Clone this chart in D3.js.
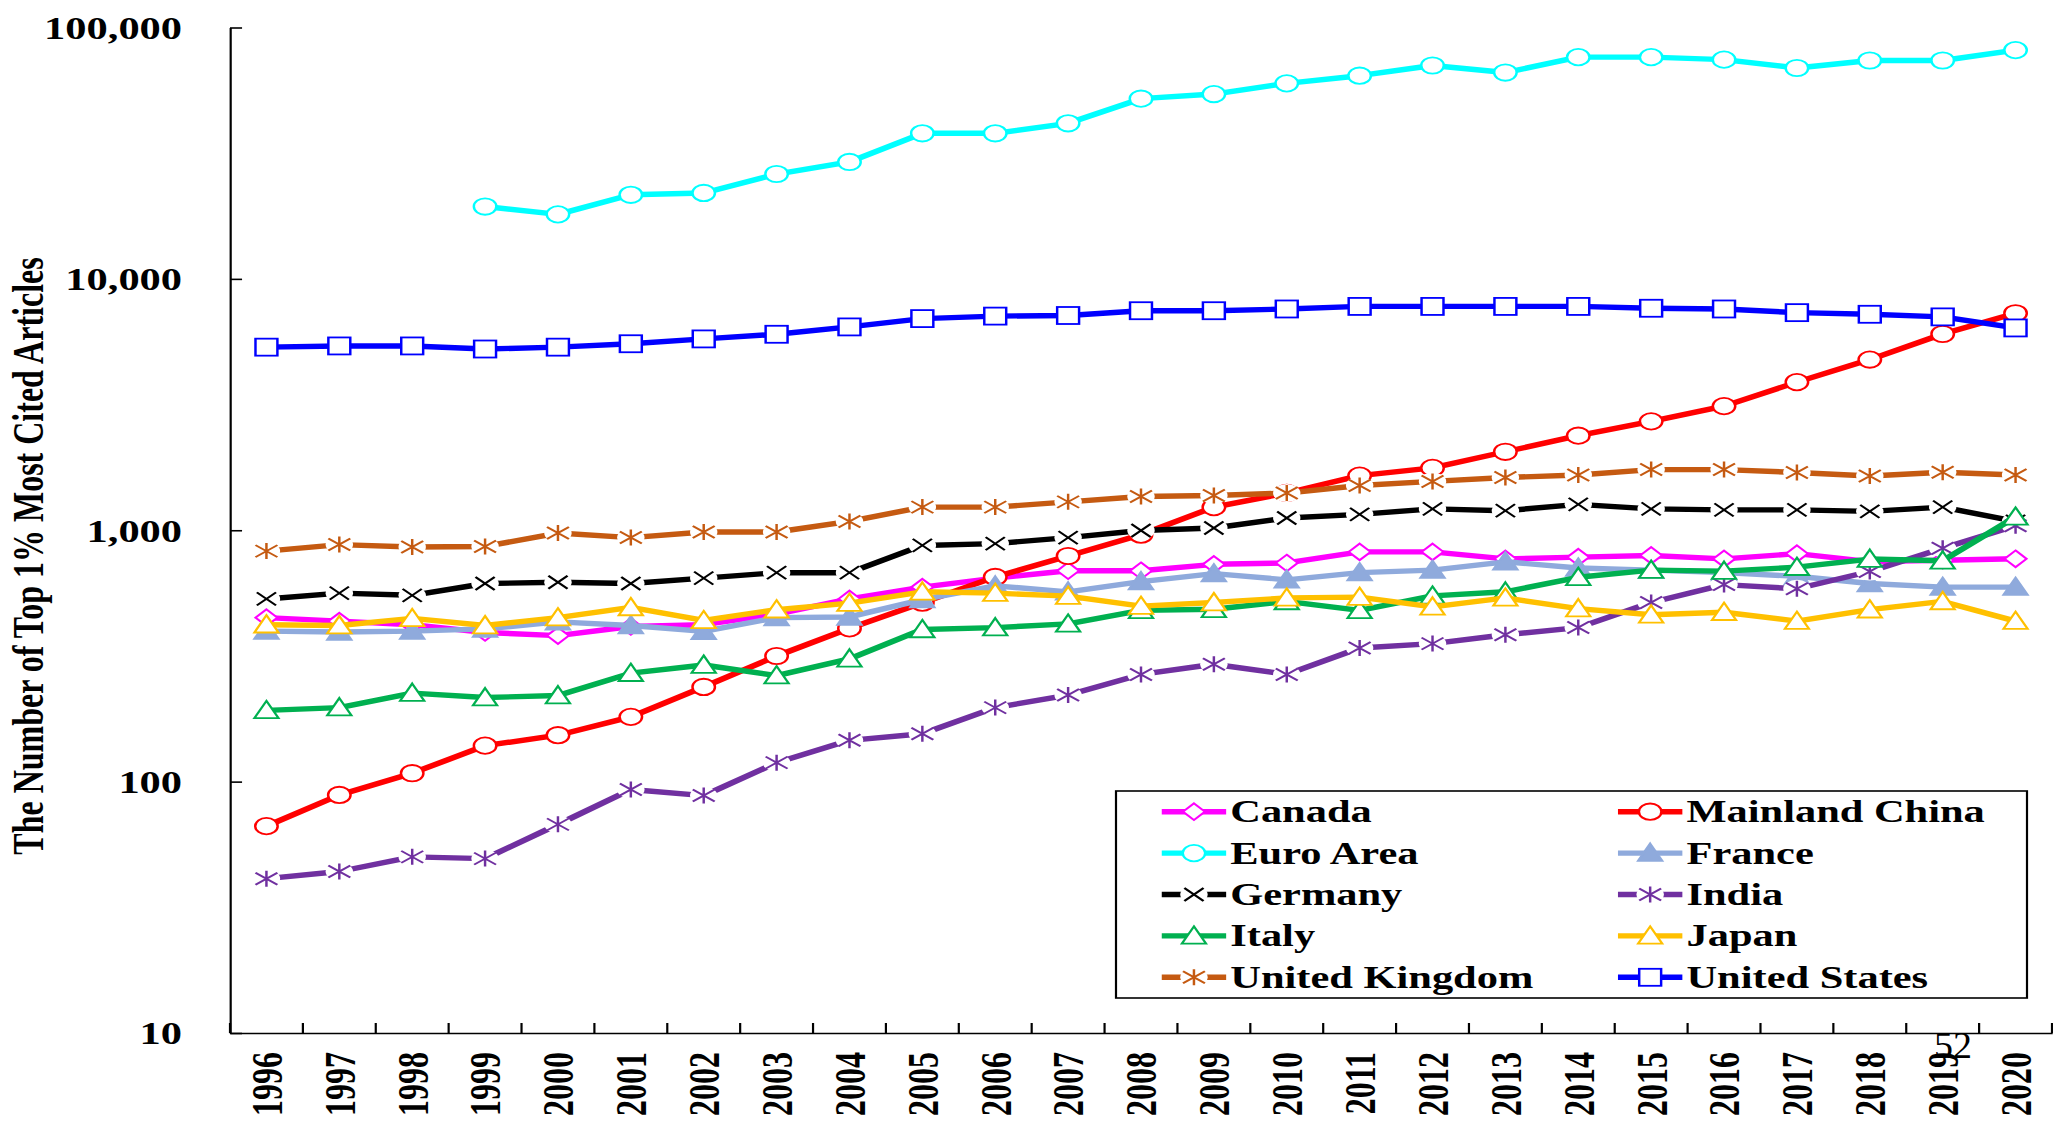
<!DOCTYPE html>
<html>
<head>
<meta charset="utf-8">
<script src="https://cdn.jsdelivr.net/npm/d3@7"></script>
<style>
  html, body { margin: 0; padding: 0; background: #fff; }
  svg { display: block; }
  text { font-family: "Liberation Serif", "Times New Roman", serif; }
</style>
</head>
<body>
<script>
// ---------------- data ----------------
const years = d3.range(1996, 2021).map(String);
const yTicks = [10, 100, 1000, 10000, 100000];

const canada  = [449, 435, 421, 392, 381, 414, 421, 464, 533, 594, 645, 690, 690, 732, 741, 820, 820, 769, 782, 794, 769, 807, 750, 760, 770];
const china   = [66.5, 88.5, 108, 139, 153, 181, 238, 316, 407, 515, 652, 790, 960, 1236, 1407, 1650, 1770, 2052, 2378, 2711, 3118, 3884, 4775, 6035, 7300];
const euro    = [null, null, null, 19400, 18060, 21600, 21970, 26130, 29180, 37940, 37940, 41580, 52100, 54350, 59950, 64300, 70600, 66200, 76200, 76200, 74500, 69000, 73900, 73900, 81300];
const france  = [397, 394, 397, 405, 432, 418, 396, 449, 452, 530, 601, 569, 625, 672, 635, 678, 694, 749, 708, 694, 678, 656, 614, 594, 594];
const germany = [533, 562, 551, 614, 621, 614, 645, 678, 678, 870, 885, 935, 998, 1021, 1119, 1157, 1216, 1196, 1268, 1216, 1205, 1205, 1189, 1236, 1084];
const india   = [41.1, 43.9, 50.2, 49.4, 67.6, 93, 88, 119, 146, 155, 197, 221, 267, 293, 267, 340, 354, 384, 410, 516, 608, 585, 685, 848, 1042];
const italy   = [192, 197, 225, 216, 220, 270, 291, 264, 308, 403, 410, 424, 480, 485, 521, 480, 548, 569, 650, 694, 688, 713, 768, 756, 1130];
const japan   = [421, 418, 446, 418, 449, 493, 438, 483, 513, 569, 562, 547, 499, 516, 538, 542, 496, 538, 488, 461, 472, 435, 483, 521, 435];
const uk      = [826, 877, 858, 862, 975, 935, 984, 984, 1084, 1236, 1236, 1297, 1362, 1375, 1406, 1507, 1564, 1621, 1659, 1743, 1743, 1698, 1644, 1702, 1659];
const us      = [5350, 5410, 5410, 5260, 5350, 5520, 5770, 6020, 6440, 6950, 7110, 7150, 7470, 7470, 7590, 7770, 7770, 7770, 7770, 7640, 7590, 7340, 7230, 7060, 6380];

const seriesNames = ["Canada", "Mainland China", "Euro Area", "France", "Germany", "India", "Italy", "Japan", "United Kingdom", "United States"];
const seriesValues = [canada, china, euro, france, germany, india, italy, japan, uk, us];
const seriesColors = ["#FF00FF", "#FF0000", "#00FFFF", "#8FAADC", "#000000", "#7030A0", "#00B050", "#FFC000", "#C55A11", "#0000FF"];
const seriesMarkers = ["diamond", "circle", "circle", "triangleFilled", "x", "star", "triangle", "triangle", "star", "square"];

const yTitle = "The Number of Top 1% Most Cited Articles";
const pageNumber = "52";

// ---------------- layout ----------------
const W = 2053, H = 1124;
const SX = 1.37;                 // horizontal stretch of the original picture
const plotL = 230 / SX, plotR = 2052 / SX;
const plotT = 27.5, plotB = 1033;
const LW = 5.4;                  // series line width

const svg = d3.select("body").append("svg").attr("width", W).attr("height", H);
const g = svg.append("g").attr("transform", `scale(${SX},1)`);

const x = d3.scaleBand().domain(years).range([plotL, plotR]).paddingInner(0).paddingOuter(0);
const y = d3.scaleLog().domain([10, 100000]).range([plotB, plotT]);
const cx = d => x(d) + x.bandwidth() / 2;

// ---------------- axes ----------------
const yAxis = d3.axisLeft(y).tickValues(yTicks).tickFormat(d3.format(",")).tickSize(-8.8).tickSizeOuter(0).tickPadding(35);
const ya = g.append("g").attr("transform", `translate(${plotL},0)`).call(yAxis);
ya.select(".domain").attr("stroke", "#000").attr("stroke-width", 1.6);
ya.selectAll(".tick line").attr("stroke", "#000").attr("stroke-width", 1.6);
ya.selectAll(".tick text").attr("font-size", 31).attr("font-weight", "bold").attr("fill", "#000")
  .attr("font-family", "Liberation Serif").attr("dy", "0.35em");

const xAxis = d3.axisBottom(x).tickSize(0).tickSizeOuter(0);
const xa = g.append("g").attr("transform", `translate(0,${plotB})`).call(xAxis);
xa.select(".domain").attr("stroke", "#000").attr("stroke-width", 1.6);
xa.selectAll(".tick text")
  .attr("font-size", 32).attr("font-weight", "bold").attr("fill", "#000")
  .attr("font-family", "Liberation Serif")
  .attr("transform", "rotate(-90)")
  .attr("text-anchor", "end")
  .attr("x", -19).attr("y", 0).attr("dy", "0.35em");

// boundary ticks pointing inward
const bounds = years.map(d => x(d)).concat([x(years[years.length - 1]) + x.step()]);
g.append("g").selectAll("line").data(bounds).join("line")
  .attr("x1", d => d).attr("x2", d => d)
  .attr("y1", plotB).attr("y2", plotB - 10)
  .attr("stroke", "#000").attr("stroke-width", 1.6);

// y title
g.append("text")
  .attr("transform", `translate(${43 / SX},556) rotate(-90)`)
  .attr("text-anchor", "middle")
  .attr("font-size", 32).attr("font-weight", "bold").attr("fill", "#000")
  .text(yTitle);

// ---------------- markers ----------------
function drawMarker(sel, type, color) {
  const sw = 1.8;
  if (type === "diamond") {
    sel.append("path").attr("d", "M0,-8.3L8,0L0,8.3L-8,0Z").attr("fill", "#fff").attr("stroke", color).attr("stroke-width", sw);
  } else if (type === "circle") {
    sel.append("ellipse").attr("rx", 8.2).attr("ry", 8.2).attr("fill", "#fff").attr("stroke", color).attr("stroke-width", sw);
  } else if (type === "triangle" || type === "triangleFilled") {
    sel.append("path").attr("d", "M0,-9.5L8.8,7.8L-8.8,7.8Z")
      .attr("fill", type === "triangleFilled" ? color : "#fff").attr("stroke", color).attr("stroke-width", sw);
  } else if (type === "square") {
    sel.append("rect").attr("x", -8).attr("y", -8.5).attr("width", 16).attr("height", 17).attr("fill", "#fff").attr("stroke", color).attr("stroke-width", sw);
  } else if (type === "x") {
    sel.append("ellipse").attr("rx", 10).attr("ry", 9).attr("fill", "#fff");
    sel.append("path").attr("d", "M-7,-6.5L7,6.5M-7,6.5L7,-6.5").attr("stroke", color).attr("stroke-width", sw).attr("fill", "none");
  } else if (type === "star") {
    sel.append("ellipse").attr("rx", 10).attr("ry", 9).attr("fill", "#fff");
    sel.append("path").attr("d", "M0,-8L0,8M-8,-6L8,6M-8,6L8,-6").attr("stroke", color).attr("stroke-width", sw).attr("fill", "none");
  }
}

// ---------------- series ----------------
const line = d3.line().defined(d => d.v != null).x(d => cx(d.year)).y(d => y(d.v));

seriesNames.forEach((name, i) => {
  const data = years.map((yr, j) => ({ year: yr, v: seriesValues[i][j] }));
  const sg = g.append("g").attr("class", "series");
  sg.append("path").datum(data).attr("d", line)
    .attr("fill", "none").attr("stroke", seriesColors[i]).attr("stroke-width", LW)
    .attr("stroke-linejoin", "round");
  sg.selectAll("g.m").data(data.filter(d => d.v != null)).join("g").attr("class", "m")
    .attr("transform", d => `translate(${cx(d.year)},${y(d.v)})`)
    .each(function () { drawMarker(d3.select(this), seriesMarkers[i], seriesColors[i]); });
});

// ---------------- legend ----------------
const lg = g.append("g");
lg.append("rect")
  .attr("x", 1116 / SX).attr("y", 791)
  .attr("width", (2027 - 1116) / SX).attr("height", 998 - 791)
  .attr("fill", "#fff").attr("stroke", "#000").attr("stroke-width", 1.6);

const colX = [848, 1181];
seriesNames.forEach((name, i) => {
  const col = i % 2, row = Math.floor(i / 2);
  const lx = colX[col], ly = 811.7 + row * 41.4;
  const it = lg.append("g").attr("transform", `translate(${lx},${ly})`);
  it.append("line").attr("x1", 0).attr("x2", 47).attr("y1", 0).attr("y2", 0)
    .attr("stroke", seriesColors[i]).attr("stroke-width", LW);
  const m = it.append("g").attr("transform", "translate(23.5,0)");
  drawMarker(m, seriesMarkers[i], seriesColors[i]);
  it.append("text").attr("x", 50).attr("y", 10.5)
    .attr("font-size", 31).attr("font-weight", "bold").attr("fill", "#000")
    .text(name);
});

// page number overlay (unstretched)
svg.append("text").attr("x", 1934).attr("y", 1058)
  .attr("font-size", 38).attr("fill", "#000")
  .text(pageNumber);
</script>
</body>
</html>
